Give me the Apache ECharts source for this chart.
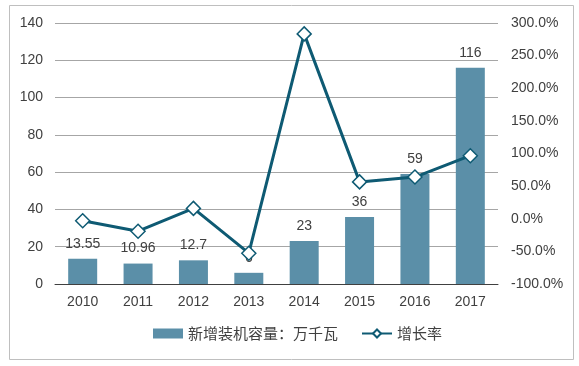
<!DOCTYPE html>
<html><head><meta charset="utf-8">
<script src="https://cdn.jsdelivr.net/npm/echarts@6/dist/echarts.min.js"></script>
<style>html,body{margin:0;padding:0;background:#fff}#c{width:579px;height:366px}</style>
</head><body><div id="c"></div>
<script>
const categories = ['2010','2011','2012','2013','2014','2015','2016','2017'];
const capacity = [13.55, 10.96, 12.7, 6, 23, 36, 59, 116];
const growth = [-3, -19.1, 15.9, -52.8, 283.3, 56.5, 63.9, 96.6];
const capacityName = '新增装机容量：万千瓦';
const growthName = '增长率';
const leftTicks = {min: 0, max: 140, interval: 20};
const rightTicks = {min: -100, max: 300, interval: 50};

const font = 'Liberation Sans, Arial, Noto Sans CJK SC, sans-serif';
const chart = echarts.init(document.getElementById('c'));
chart.setOption({
  animation: false,
  textStyle: {fontFamily: font},
  graphic: [{type: 'rect', shape: {x: 9.5, y: 5.5, width: 564, height: 354}, style: {fill: 'none', stroke: '#BFBFBF', lineWidth: 1}, z: -1}],
  grid: {left: 55, right: 81, top: 23, bottom: 82},
  legend: {
    bottom: 20, left: 148, itemGap: 23, itemWidth: 30, itemHeight: 10,
    textStyle: {fontSize: 15, color: '#404040', fontFamily: 'Noto Sans CJK SC, sans-serif'},
    data: [{name: capacityName, icon: 'rect'}, {name: growthName}]
  },
  xAxis: {
    type: 'category', data: categories,
    axisLine: {lineStyle: {color: '#404040', width: 1}},
    axisTick: {show: false},
    axisLabel: {color: '#404040', fontSize: 14, margin: 11}
  },
  yAxis: [{
    type: 'value', min: leftTicks.min, max: leftTicks.max, interval: leftTicks.interval,
    axisLine: {show: false}, axisTick: {show: false},
    axisLabel: {color: '#404040', fontSize: 14, margin: 12},
    splitLine: {lineStyle: {color: '#A6A6A6', width: 1}}
  }, {
    type: 'value', min: rightTicks.min, max: rightTicks.max, interval: rightTicks.interval,
    axisLine: {show: false}, axisTick: {show: false},
    axisLabel: {color: '#404040', fontSize: 14, margin: 13, formatter: v => v.toFixed(1) + '%'},
    splitLine: {show: false}
  }],
  series: [{
    name: capacityName, type: 'bar', data: capacity, barWidth: 29,
    itemStyle: {color: '#5B8FA8'},
    label: {show: true, position: 'top', distance: 8, color: '#404040', fontSize: 14}
  }, {
    name: growthName, type: 'line', yAxisIndex: 1, data: growth,
    symbol: 'diamond', symbolSize: 14,
    lineStyle: {color: '#0E5A73', width: 3},
    itemStyle: {color: '#fff', borderColor: '#0E5A73', borderWidth: 1.5},
    z: 3
  }]
});
</script></body></html>
